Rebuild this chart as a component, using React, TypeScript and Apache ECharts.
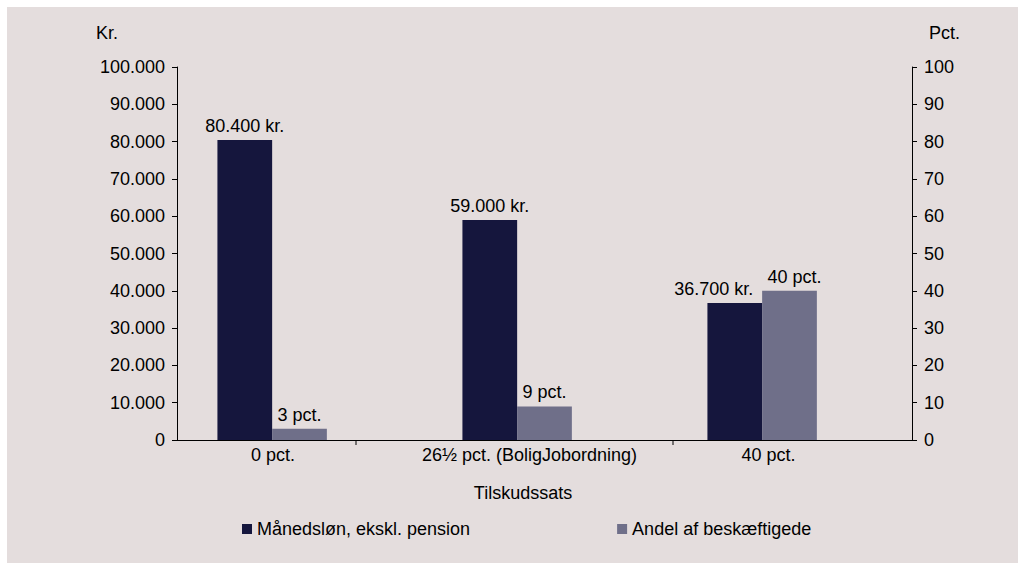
import React, { useEffect, useRef } from "react";
import * as echarts from "echarts";

// Tilskudssats categories and the two measured series
const categories = ["0 pct.", "26½ pct. (BoligJobordning)", "40 pct."];
const wageValues = [80400, 59000, 36700]; // kr. per month
const shareValues = [3, 9, 40]; // pct. of employed
const wageTicks = { min: 0, max: 100000, interval: 10000 };
const shareTicks = { min: 0, max: 100, interval: 10 };

const seriesNames = ["Månedsløn, ekskl. pension", "Andel af beskæftigede"];

const DARK = "#15163d";
const LIGHT = "#6f6f89";
const BG = "#e4dddd";
const FONT = 'Arial, "Liberation Sans", sans-serif';

const dotThousands = (v: number) =>
  String(v).replace(/\B(?=(\d{3})+(?!\d))/g, ".");

// per-category label shift (px) so each label sits under its bar pair
const labelShift = [53, 30, 42];
// value labels nudged sideways in the last group so they do not collide
const wageLabelNudge = [0, 0, -21];
const shareLabelNudge = [0, 0, 5];

export default function App() {
  const ref = useRef<HTMLDivElement>(null);

  useEffect(() => {
    if (!ref.current) return;
    const chart = echarts.init(ref.current, undefined, { renderer: "svg" });
    const axisText = { color: "#000", fontSize: 18, fontFamily: FONT };
    const rich: Record<string, any> = {};
    labelShift.forEach((p, i) => {
      rich["c" + i] = { ...axisText, padding: [0, p, 0, 0] };
    });

    chart.setOption({
      animation: false,
      backgroundColor: BG,
      textStyle: { fontFamily: FONT },
      grid: { left: 170, right: 106, top: 60, bottom: 123 },
      legend: {
        data: seriesNames,
        left: 235,
        top: 513,
        padding: 0,
        itemWidth: 10,
        itemHeight: 10,
        itemGap: 147,
        icon: "rect",
        textStyle: { color: "#000", fontSize: 18, fontFamily: FONT },
      },
      xAxis: {
        type: "category",
        data: categories,
        name: "Tilskudssats",
        nameLocation: "middle",
        nameGap: 44,
        nameTextStyle: { ...axisText, padding: [0, 43, 0, 0] },
        axisLine: { lineStyle: { color: "#000", width: 1 } },
        axisTick: { show: false },
        axisLabel: {
          margin: 6,
          formatter: (v: string, i: number) => `{c${i}|${v}}`,
          rich,
        },
      },
      yAxis: [
        {
          type: "value",
          ...wageTicks,
          name: "Kr.",
          nameLocation: "end",
          nameGap: 25,
          nameTextStyle: { ...axisText, align: "right", padding: [0, 59, 0, 0] },
          axisLine: { show: true, lineStyle: { color: "#000" } },
          axisTick: { show: true, length: 5, lineStyle: { color: "#000" } },
          splitLine: { show: false },
          axisLabel: { ...axisText, margin: 12, formatter: (v: number) => dotThousands(v) },
        },
        {
          type: "value",
          position: "right",
          ...shareTicks,
          name: "Pct.",
          nameLocation: "end",
          nameGap: 25,
          nameTextStyle: { ...axisText, align: "left", padding: [0, 0, 0, 17] },
          axisLine: { show: true, lineStyle: { color: "#000" } },
          axisTick: { show: true, length: 5, lineStyle: { color: "#000" } },
          splitLine: { show: false },
          axisLabel: { ...axisText, margin: 12 },
        },
      ],
      graphic: [
        { type: "line", shape: { x1: 349, y1: 433, x2: 349, y2: 438 }, style: { stroke: "#000", lineWidth: 1 } },
        { type: "line", shape: { x1: 666, y1: 433, x2: 666, y2: 438 }, style: { stroke: "#000", lineWidth: 1 } },
      ],
      series: [
        {
          name: seriesNames[0],
          type: "bar",
          yAxisIndex: 0,
          data: wageValues.map((v, i) => ({ value: v, label: { offset: [wageLabelNudge[i], 0] } })),
          barGap: "0%",
          barCategoryGap: "33%",
          itemStyle: { color: DARK },
          label: {
            show: true,
            position: "top",
            distance: 5,
            ...axisText,
            formatter: (p: any) => `${dotThousands(p.value)} kr.`,
          },
        },
        {
          name: seriesNames[1],
          type: "bar",
          yAxisIndex: 1,
          data: shareValues.map((v, i) => ({ value: v, label: { offset: [shareLabelNudge[i], 0] } })),
          barGap: "0%",
          barCategoryGap: "33%",
          itemStyle: { color: LIGHT },
          label: {
            show: true,
            position: "top",
            distance: 5,
            ...axisText,
            formatter: (p: any) => `${p.value} pct.`,
          },
        },
        {
          // empty third slot in each group, keeps the pair left of centre
          name: "reserve",
          type: "bar",
          yAxisIndex: 0,
          data: [null, null, null],
          barGap: "0%",
          barCategoryGap: "33%",
        },
      ],
    });
    return () => chart.dispose();
  }, []);

  return (
    <div style={{ position: "absolute", left: 0, top: 0, width: 1025, height: 570, background: "#fff" }}>
      <div ref={ref} style={{ position: "absolute", left: 7, top: 7, width: 1011, height: 556 }} />
    </div>
  );
}
